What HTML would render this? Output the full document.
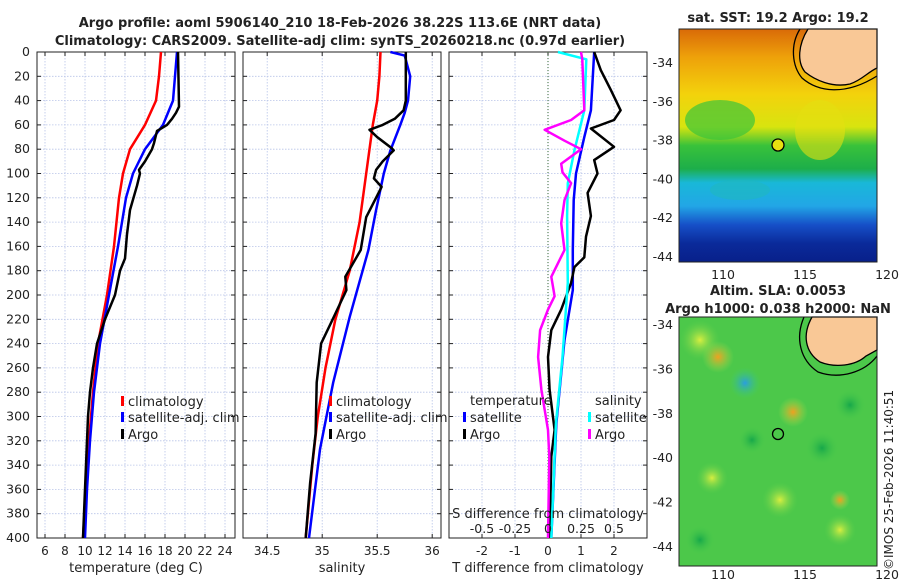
<!DOCTYPE html>
<html><head><meta charset="utf-8"><style>
body{margin:0;background:#fff;width:900px;height:580px;overflow:hidden}
svg text{font-family:"DejaVu Sans","Liberation Sans",sans-serif;fill:#222}
</style></head><body>
<svg id="c" width="900" height="580" xmlns="http://www.w3.org/2000/svg">
<defs>
<linearGradient id="sst" x1="0" y1="0" x2="0" y2="1">
<stop offset="0" stop-color="#d96a08"/><stop offset="0.12" stop-color="#eea10a"/><stop offset="0.28" stop-color="#f3d20c"/>
<stop offset="0.42" stop-color="#d8e40f"/><stop offset="0.5" stop-color="#39c23a"/><stop offset="0.6" stop-color="#1dae4a"/>
<stop offset="0.66" stop-color="#19b8d8"/><stop offset="0.76" stop-color="#22a6e6"/><stop offset="0.84" stop-color="#1650c8"/>
<stop offset="0.92" stop-color="#0a2a9a"/><stop offset="1" stop-color="#08208a"/></linearGradient>
<radialGradient id="gb"><stop offset="0" stop-color="#2a9ee0"/><stop offset="1" stop-color="#3fce70" stop-opacity="0"/></radialGradient>
<radialGradient id="go"><stop offset="0" stop-color="#f0a020"/><stop offset="1" stop-color="#a0e050" stop-opacity="0"/></radialGradient>
<radialGradient id="gy"><stop offset="0" stop-color="#d8ee40"/><stop offset="1" stop-color="#60d050" stop-opacity="0"/></radialGradient>
<radialGradient id="gg"><stop offset="0" stop-color="#16a84a"/><stop offset="1" stop-color="#4acb48" stop-opacity="0"/></radialGradient>
</defs>
<g id="plots"></g>
<g>
<rect x="679" y="29" width="198" height="233" fill="url(#sst)"/>
<ellipse cx="720" cy="120" rx="35" ry="20" fill="#3cc43a" opacity="0.7"/>
<ellipse cx="820" cy="130" rx="25" ry="30" fill="#e4df10" opacity="0.6"/>
<ellipse cx="740" cy="190" rx="30" ry="10" fill="#20b8c0" opacity="0.6"/>
<path d="M808,29 C798,45 797,62 805,72 C815,80 832,88 850,84 C862,80 868,72 877,68 L877,29 Z" fill="#f9c896" stroke="#000" stroke-width="1.3"/>
<path d="M800,29 C790,45 792,66 802,78 C818,92 845,96 877,76" fill="none" stroke="#000" stroke-width="1.3"/>
<circle cx="778" cy="145" r="6" fill="#e8e010" stroke="#000" stroke-width="1.3"/>
<rect x="679" y="29" width="198" height="233" fill="none" stroke="#222"/>
</g>
<g>
<rect x="679" y="317" width="198" height="249" fill="#4cc84a"/>
<circle cx="700" cy="340" r="20" fill="url(#gy)"/>
<circle cx="718" cy="357" r="16" fill="url(#go)"/>
<circle cx="745" cy="383" r="16" fill="url(#gb)"/>
<circle cx="793" cy="412" r="15" fill="url(#go)"/>
<circle cx="822" cy="448" r="17" fill="url(#gg)"/>
<circle cx="850" cy="405" r="16" fill="url(#gg)"/>
<circle cx="752" cy="440" r="14" fill="url(#gg)"/>
<circle cx="712" cy="478" r="16" fill="url(#gy)"/>
<circle cx="780" cy="500" r="18" fill="url(#gy)"/>
<circle cx="840" cy="530" r="16" fill="url(#gy)"/>
<circle cx="700" cy="540" r="15" fill="url(#gg)"/>
<circle cx="840" cy="500" r="10" fill="url(#go)"/>
<path d="M812,317 C802,335 805,352 820,362 C835,368 855,366 866,356 L877,350 L877,317 Z" fill="#f9c896" stroke="#000" stroke-width="1.3"/>
<path d="M804,317 C795,338 800,360 818,372 C840,380 865,372 877,356" fill="none" stroke="#000" stroke-width="1.3"/>
<circle cx="778" cy="434" r="5.5" fill="#4cc84a" stroke="#000" stroke-width="1.3"/>
<rect x="679" y="317" width="198" height="249" fill="none" stroke="#222"/>
</g>
<text x="778" y="22" font-size="13" font-weight="bold" text-anchor="middle">sat. SST: 19.2 Argo: 19.2</text>
<text x="778" y="295" font-size="13" font-weight="bold" text-anchor="middle">Altim. SLA: 0.0053</text>
<text x="778" y="313" font-size="13" font-weight="bold" text-anchor="middle">Argo h1000: 0.038 h2000: NaN</text>
<text transform="translate(893,570) rotate(-90)" font-size="12">©IMOS 25-Feb-2026 11:40:51</text>
<text x="340" y="27" font-size="13" font-weight="bold" text-anchor="middle">Argo profile: aoml 5906140_210 18-Feb-2026 38.22S 113.6E (NRT data)</text>
<text x="340" y="45" font-size="13" font-weight="bold" text-anchor="middle">Climatology: CARS2009. Satellite-adj clim: synTS_20260218.nc (0.97d earlier)</text>
</svg>
<script>
const depthTicks=[0,20,40,60,80,100,120,140,160,180,200,220,240,260,280,300,320,340,360,380,400];
const tTicks=[6,8,10,12,14,16,18,20,22,24];
const sTicks=[34.5,35,35.5,36];
const dTicks=[-2,-1,0,1,2];
const sdTickLabels=["-0.5","-0.25","0","0.25","0.5"];
const sdTicks=[-0.5,-0.25,0,0.25,0.5];
const tClimD=[0,20,40,60,80,100,120,160,200,240,280,320,360,400];
const tClim=[17.6,17.4,17.1,16.0,14.5,13.8,13.4,12.9,12.2,11.3,10.8,10.4,10.1,9.8];
const tSatD=[0,20,40,60,80,100,120,160,200,240,280,320,360,400];
const tSat=[19.2,19.0,18.8,17.8,16.0,14.8,14.1,13.3,12.4,11.5,10.9,10.5,10.2,10.0];
const tArgoD=[0,45,50,55,60,65,75,80,90,97,100,110,130,150,170,180,200,220,240,260,280,300,340,400];
const tArgo=[19.3,19.4,19.1,18.7,18.2,17.2,16.9,16.7,16.0,15.4,15.5,15.2,14.5,14.2,14.0,13.5,13.0,12.0,11.2,10.8,10.5,10.3,10.1,9.8];
const sClimD=[0,20,40,60,80,100,140,180,220,260,300,340,400];
const sClim=[35.53,35.52,35.50,35.46,35.43,35.40,35.34,35.25,35.12,35.03,34.96,34.91,34.85];
const sSatD=[0,3,20,40,50,60,81,100,130,163,218,272,327,400];
const sSat=[35.62,35.75,35.80,35.78,35.75,35.71,35.62,35.56,35.49,35.42,35.25,35.10,34.98,34.88];
const sArgoD=[0,40,48,55,60,64,70,79,81,90,97,104,111,136,163,185,196,223,240,272,314,355,400];
const sArgo=[35.76,35.76,35.74,35.66,35.55,35.43,35.50,35.63,35.65,35.55,35.49,35.47,35.54,35.40,35.35,35.21,35.22,35.08,34.99,34.95,34.94,34.89,34.85];
const dTSatD=[0,48,70,100,122,163,196,237,306,400];
const dTSat=[1.4,1.3,1.1,0.85,0.78,0.75,0.75,0.5,0.25,0.1];
const dTArgoD=[0,15,31,48,56,63,78,89,100,116,135,152,169,177,190,212,229,251,278,311,333,400];
const dTArgo=[1.4,1.6,1.9,2.2,2.0,1.3,2.0,1.4,1.5,1.2,1.3,1.15,1.1,0.8,0.7,0.4,0.1,0.0,0.05,0.2,0.1,0.05];
const dSSatD=[0,6,48,81,108,135,190,251,306,400];
const dSSat=[0.075,0.29,0.275,0.2,0.15,0.145,0.15,0.11,0.06,0.025];
const dSArgoD=[0,6,48,56,64,73,80,92,99,108,122,141,163,185,201,212,229,251,278,311,333,400];
const dSArgo=[0.25,0.26,0.275,0.175,-0.025,0.125,0.25,0.1,0.11,0.175,0.125,0.1,0.125,0.025,0.05,0.0,-0.06,-0.075,-0.05,0.0,0.01,0.0];

const NS='http://www.w3.org/2000/svg';
const g=document.getElementById('plots');
const Y0=52,Y1=538;
const yS=d=>Y0+(d/400)*(Y1-Y0);
function el(t,a,p){const e=document.createElementNS(NS,t);for(const k in a)e.setAttribute(k,a[k]);(p||g).appendChild(e);return e;}
function txt(x,y,s,a,p){const e=el('text',Object.assign({x:x,y:y,'font-size':12},a||{}),p);e.textContent=s;return e;}
const panels=[
 {x0:37,x1:235,lo:5.2,hi:25,name:'temperature-panel'},
 {x0:243,x1:441,lo:34.28,hi:36.08,name:'salinity-panel'},
 {x0:449,x1:647,lo:-3,hi:3,name:'difference-panel'}];
panels.forEach(p=>p.f=v=>p.x0+(v-p.lo)/(p.hi-p.lo)*(p.x1-p.x0));
function frame(p,ticks,labels){
 const pg=el('g',{});
 
 
 el('rect',{x:p.x0,y:Y0,width:p.x1-p.x0,height:Y1-Y0,fill:'#fff'},pg);
 depthTicks.forEach(d=>{el('line',{x1:p.x0,x2:p.x1,y1:yS(d),y2:yS(d),stroke:'#b8c4e8','stroke-dasharray':'1.5,1.5','stroke-width':0.8},pg);
  el('line',{x1:p.x0,x2:p.x0+4,y1:yS(d),y2:yS(d),stroke:'#222'},pg);el('line',{x1:p.x1,x2:p.x1-4,y1:yS(d),y2:yS(d),stroke:'#222'},pg);});
 ticks.forEach((t,i)=>{const x=p.f(t);el('line',{x1:x,x2:x,y1:Y0,y2:Y1,stroke:'#b8c4e8','stroke-dasharray':'1.5,1.5','stroke-width':0.8},pg);
  el('line',{x1:x,x2:x,y1:Y1,y2:Y1-4,stroke:'#222'},pg);el('line',{x1:x,x2:x,y1:Y0,y2:Y0+4,stroke:'#222'},pg);
  const tl=txt(x,555,labels[i],{'text-anchor':'middle'},pg);
  
  });
 el('rect',{x:p.x0,y:Y0,width:p.x1-p.x0,height:Y1-Y0,fill:'none',stroke:'#222'},pg);
 return pg;}
function line(p,ds,vs,col,w,name,scale){
 const pts=ds.map((d,i)=>p.f(vs[i]*(scale||1)).toFixed(1)+','+yS(d).toFixed(1)).join(' ');
 const e=el('polyline',{points:pts,fill:'none',stroke:col,'stroke-width':w,'stroke-linejoin':'round'});
 
 }
function legend(x,y,col,label){
 const lg=el('g',{});
 
 
 el('rect',{x:x,y:y-10,width:3,height:10,fill:col},lg);
 txt(x+7,y,label,{'font-size':13},lg);}
frame(panels[0],tTicks,tTicks.map(String));
depthTicks.forEach(d=>{const t=txt(30,yS(d)+4,String(d),{'text-anchor':'end','font-size':12.5});
 
 });
line(panels[0],tClimD,tClim,'#f00',2.5,'temperature-climatology-line');
line(panels[0],tSatD,tSat,'#00f',2.5,'temperature-satellite-line');
line(panels[0],tArgoD,tArgo,'#000',2.5,'temperature-argo-line');
legend(121,406,'#f00','climatology');legend(121,422,'#00f','satellite-adj. clim');legend(121,439,'#000','Argo');
const xt1=txt(136,572,'temperature (deg C)',{'text-anchor':'middle','font-size':13});

frame(panels[1],sTicks,sTicks.map(String));
line(panels[1],sClimD,sClim,'#f00',2.5,'salinity-climatology-line');
line(panels[1],sSatD,sSat,'#00f',2.5,'salinity-satellite-line');
line(panels[1],sArgoD,sArgo,'#000',2.5,'salinity-argo-line');
legend(329,406,'#f00','climatology');legend(329,422,'#00f','satellite-adj. clim');legend(329,439,'#000','Argo');
const xt2=txt(342,572,'salinity',{'text-anchor':'middle','font-size':13});

frame(panels[2],dTicks,dTicks.map(String));
const z=panels[2].f(0);
el('line',{x1:z,x2:z,y1:Y0,y2:Y1,stroke:'#3a6a3a','stroke-dasharray':'1,2','stroke-width':1});
line(panels[2],dTSatD,dTSat,'#00f',2.5,'temperature-diff-satellite-line');
line(panels[2],dTArgoD,dTArgo,'#000',2.5,'temperature-diff-argo-line');
line(panels[2],dSSatD,dSSat,'#0ff',2.5,'salinity-diff-satellite-line',4);
line(panels[2],dSArgoD,dSArgo,'#f0f',2.5,'salinity-diff-argo-line',4);
txt(470,405,'temperature',{'font-size':13});
legend(463,422,'#00f','satellite');legend(463,439,'#000','Argo');
txt(595,405,'salinity',{'font-size':13});
legend(588,422,'#0ff','satellite');legend(588,439,'#f0f','Argo');
const st=txt(548,518,'S difference from climatology',{'text-anchor':'middle','font-size':13});

sdTicks.forEach((s,i)=>{const t=txt(panels[2].f(s*4),533,sdTickLabels[i],{'text-anchor':'middle','font-size':12.5});
 });
const xt3=txt(548,572,'T difference from climatology',{'text-anchor':'middle','font-size':13});

const svg=document.getElementById('c');
const mapLatTop=[-34,-36,-38,-40,-42,-44];
const mapLon=[110,115,120];
function mapTicks(yA,yB,xAxisY){
 mapLatTop.forEach((la,i)=>{const y=yA+(yB-yA)*i/5;const t=txt(673,y+4,String(la),{'text-anchor':'end','font-size':12.5},svg);
  });
 mapLon.forEach(lo=>{const x=723+(lo-110)*16.4;const t=txt(x,xAxisY,String(lo),{'text-anchor':'middle','font-size':12.5},svg);
  });}
mapTicks(63,257,279);
mapTicks(325,547,579);
</script>
</body></html>
